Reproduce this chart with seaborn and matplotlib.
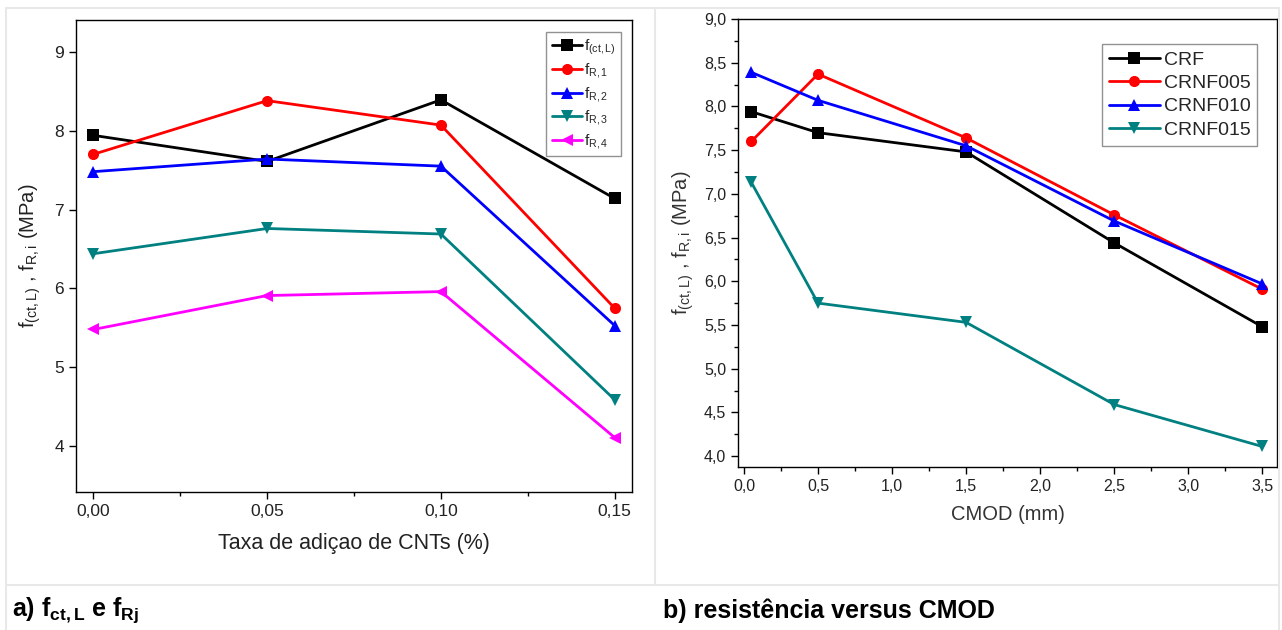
import numpy as np
import pandas as pd
import matplotlib
matplotlib.use("Agg")
import matplotlib.pyplot as plt
import seaborn as sns
from matplotlib.ticker import MultipleLocator, FuncFormatter
from matplotlib.lines import Line2D

sns.set_theme(style="ticks")
plt.rcParams['font.family'] = ['Liberation Sans', 'DejaVu Sans']
plt.rcParams['mathtext.fontset'] = 'custom'
plt.rcParams['mathtext.rm'] = 'Liberation Sans'
plt.rcParams['mathtext.it'] = 'Liberation Sans:italic'
plt.rcParams['mathtext.bf'] = 'Liberation Sans:bold'

# ---- data: panel a ----
cnt_rate = [0.00, 0.05, 0.10, 0.15]
f_ctL = [7.94, 7.61, 8.39, 7.14]
f_R1 = [7.70, 8.38, 8.07, 5.75]
f_R2 = [7.48, 7.64, 7.55, 5.53]
f_R3 = [6.44, 6.76, 6.69, 4.59]
f_R4 = [5.48, 5.91, 5.96, 4.11]
labels_a = [r'f$_{\mathregular{(ct,L)}}$', r'f$_{\mathregular{R,1}}$', r'f$_{\mathregular{R,2}}$',
            r'f$_{\mathregular{R,3}}$', r'f$_{\mathregular{R,4}}$']

# ---- data: panel b ----
cmod = [0.05, 0.5, 1.5, 2.5, 3.5]
CRF = [7.94, 7.70, 7.48, 6.44, 5.48]
CRNF005 = [7.60, 8.37, 7.64, 6.76, 5.91]
CRNF010 = [8.39, 8.07, 7.55, 6.69, 5.97]
CRNF015 = [7.13, 5.75, 5.53, 4.59, 4.11]
labels_b = ['CRF', 'CRNF005', 'CRNF010', 'CRNF015']

colors_a = ['#000000', '#ff0000', '#0000ff', '#008080', '#ff00ff']
markers_a = ['s', 'o', '^', 'v', '<']

df_a = pd.DataFrame({
    'x': np.tile(cnt_rate, 5),
    'y': np.concatenate([f_ctL, f_R1, f_R2, f_R3, f_R4]),
    's': np.repeat(labels_a, len(cnt_rate)),
})
df_b = pd.DataFrame({
    'x': np.tile(cmod, 4),
    'y': np.concatenate([CRF, CRNF005, CRNF010, CRNF015]),
    's': np.repeat(labels_b, len(cmod)),
})

fig = plt.figure(figsize=(12.82, 6.30), dpi=100)
fig.patch.set_facecolor('white')

# table-like grey frame
gc = '#e8e8e8'
for (x0, y0, x1, y1) in [(0.005, 0.987, 0.998, 0.987), (0.005, 0.071, 0.998, 0.071),
                         (0.511, 0.071, 0.511, 0.987), (0.005, 0.0, 0.005, 0.987),
                         (0.998, 0.0, 0.998, 0.987)]:
    fig.add_artist(Line2D([x0, x1], [y0, y1], color=gc, lw=1.5, transform=fig.transFigure))

comma1 = FuncFormatter(lambda v, p: f'{v:.1f}'.replace('.', ','))
comma2 = FuncFormatter(lambda v, p: f'{v:.2f}'.replace('.', ','))
int_fmt = FuncFormatter(lambda v, p: f'{v:.0f}')

def style_ax(ax):
    for sp in ax.spines.values():
        sp.set_visible(True)
        sp.set_color('black')
        sp.set_linewidth(1.0)
    ax.tick_params(which='both', direction='out', color='black', width=1.0, colors='#222222')
    ax.tick_params(which='major', length=5)
    ax.tick_params(which='minor', length=3)
    ax.set_facecolor('white')

# ---- panel a ----
ax1 = fig.add_axes([0.0593, 0.219, 0.4337, 0.749])
sns.lineplot(data=df_a, x='x', y='y', hue='s', style='s', palette=colors_a,
             markers=markers_a, dashes=False, markersize=8, linewidth=2,
             markeredgewidth=0, ax=ax1, legend=True)
ax1.set_xlim(-0.005, 0.155)
ax1.set_ylim(3.42, 9.4)
ax1.xaxis.set_major_locator(MultipleLocator(0.05))
ax1.xaxis.set_minor_locator(MultipleLocator(0.025))
ax1.yaxis.set_major_locator(MultipleLocator(1))
ax1.xaxis.set_major_formatter(comma2)
ax1.yaxis.set_major_formatter(int_fmt)
style_ax(ax1)
ax1.tick_params(labelsize=12.5)
ax1.set_xlabel('Taxa de adiçao de CNTs (%)', fontsize=15.5, color='#222222', labelpad=10)
ax1.set_ylabel(r'f$_{\mathregular{(ct,L)}}$ , f$_{\mathregular{R,i}}$ (MPa)', fontsize=14.5,
               color='#222222', labelpad=8)
leg1 = ax1.legend(loc='upper right', bbox_to_anchor=(0.98, 0.975), borderaxespad=0,
                  fontsize=11, frameon=True, fancybox=False, edgecolor='#777777',
                  handlelength=2.0, handletextpad=0.1, labelspacing=0.3, borderpad=0.35,
                  title=None)
leg1.get_frame().set_linewidth(1.0)

# ---- panel b ----
ax2 = fig.add_axes([0.5757, 0.2587, 0.4204, 0.7111])
sns.lineplot(data=df_b, x='x', y='y', hue='s', style='s', palette=colors_a[:4],
             markers=markers_a[:4], dashes=False, markersize=8, linewidth=2,
             markeredgewidth=0, ax=ax2, legend=True)
ax2.set_xlim(-0.04, 3.6)
ax2.set_ylim(3.875, 9.0)
ax2.xaxis.set_major_locator(MultipleLocator(0.5))
ax2.xaxis.set_minor_locator(MultipleLocator(0.25))
ax2.yaxis.set_major_locator(MultipleLocator(0.5))
ax2.yaxis.set_minor_locator(MultipleLocator(0.25))
ax2.xaxis.set_major_formatter(comma1)
ax2.yaxis.set_major_formatter(comma1)
style_ax(ax2)
ax2.tick_params(labelsize=11.5)
ax2.set_xlabel('CMOD (mm)', fontsize=14.5, color='#333333', labelpad=8)
ax2.set_ylabel(r'f$_{\mathregular{(ct,L)}}$ , f$_{\mathregular{R,i}}$ (MPa)', fontsize=14.5,
               color='#333333', labelpad=6)
leg2 = ax2.legend(loc='upper right', bbox_to_anchor=(0.963, 0.944), borderaxespad=0,
                  fontsize=14, frameon=True, fancybox=False, edgecolor='#777777',
                  handlelength=2.6, handletextpad=0.2, labelspacing=0.3, borderpad=0.35,
                  title=None)
leg2.get_frame().set_linewidth(1.0)

# captions
fig.text(0.009, 0.031, r'a) $\mathbf{f_{ct,L}}$ e $\mathbf{f_{Rj}}$', fontsize=18,
         fontweight='bold', va='center', ha='left', color='black')
fig.text(0.517, 0.031, 'b) resistência versus CMOD', fontsize=18,
         fontweight='bold', va='center', ha='left', color='black')

fig.savefig('out.png', dpi=100, facecolor='white')
